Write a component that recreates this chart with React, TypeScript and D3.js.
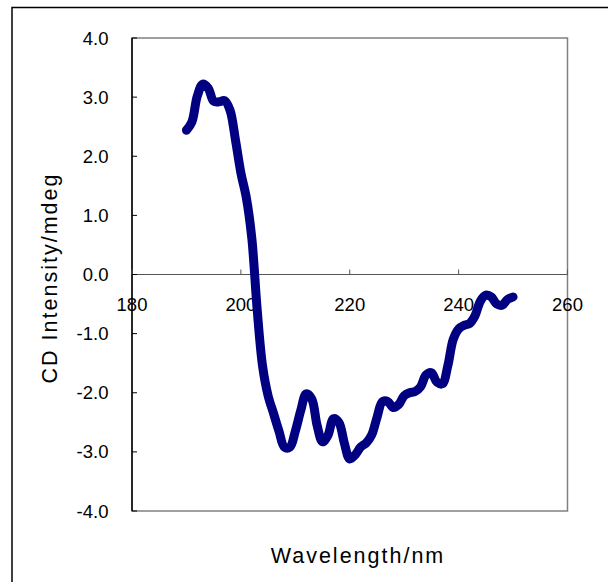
import React from "react";
import * as d3 from "d3";

const wavelengths: number[] = [
  190, 191, 192, 193, 194, 195, 196, 197, 198, 199,
  200, 201, 202, 203, 204, 205, 206, 207, 208, 209,
  210, 211, 212, 213, 214, 215, 216, 217, 218, 219,
  220, 221, 222, 223, 224, 225, 226, 227, 228, 229,
  230, 231, 232, 233, 234, 235, 236, 237, 238, 239,
  240, 241, 242, 243, 244, 245, 246, 247, 248, 249, 250,
];
const cdValues: number[] = [
  2.44, 2.58, 3.02, 3.22, 3.15, 2.93, 2.92, 2.94, 2.78, 2.28,
  1.72, 1.3, 0.62, -0.6, -1.56, -2.05, -2.35, -2.65, -2.92, -2.92,
  -2.65, -2.3, -2.02, -2.1, -2.55, -2.83, -2.72, -2.44, -2.5, -2.85,
  -3.12, -3.05, -2.92, -2.85, -2.72, -2.42, -2.15, -2.15, -2.25, -2.2,
  -2.05, -2.0, -1.98, -1.9, -1.7, -1.66, -1.82, -1.85, -1.55, -1.1,
  -0.92, -0.86, -0.83, -0.7, -0.45, -0.35, -0.38, -0.5, -0.52, -0.42, -0.38,
];
const xTicks: number[] = [180, 200, 220, 240, 260];
const yTicks: number[] = [4, 3, 2, 1, 0, -1, -2, -3, -4];
const xTitle = "Wavelength/nm";
const yTitle = "CD Intensity/mdeg";

const W = 608;
const H = 582;
const left = 132;
const right = 567.5;
const top = 38;
const bottom = 511;
const font = "'Liberation Sans', Arial, sans-serif";

export default function App() {
  const x = d3.scaleLinear().domain([180, 260]).range([left, right]);
  const y = d3.scaleLinear().domain([-4, 4]).range([bottom, top]);
  const data = wavelengths.map((w, i) => ({ w, v: cdValues[i] }));
  const line = d3
    .line<{ w: number; v: number }>()
    .x((d) => x(d.w))
    .y((d) => y(d.v))
    .curve(d3.curveCatmullRom.alpha(0.5));

  return (
    <svg
      width={W}
      height={H}
      style={{ position: "absolute", left: 0, top: 0, background: "#fff" }}
    >
      <rect x={12} y={7.5} width={800} height={800} fill="#fff" stroke="#000" strokeWidth={1.5} />
      {/* plot border */}
      <rect x={left} y={top} width={right - left} height={bottom - top} fill="none" stroke="#808080" strokeWidth={1.5} />
      <line x1={left} x2={left} y1={top} y2={bottom} stroke="#000" strokeWidth={1.5} />
      {/* x axis at zero */}
      <line x1={left} x2={right} y1={y(0)} y2={y(0)} stroke="#555" strokeWidth={1} />
      {xTicks.map((t) => (
        <g key={"xt" + t}>
          <line x1={x(t)} x2={x(t)} y1={y(0)} y2={y(0) - 5} stroke="#555" strokeWidth={1} />
          <text
            x={x(t)}
            y={y(0) + 36}
            textAnchor="middle"
            fontFamily={font}
            fontSize={18.5}
            fill="#000"
          >
            {String(t)}
          </text>
        </g>
      ))}
      {yTicks.map((t) => (
        <g key={"yt" + t}>
          <line x1={left} x2={left + 5} y1={y(t)} y2={y(t)} stroke="#000" strokeWidth={1} />
          <text
            x={108.5}
            y={y(t) + 6.5}
            textAnchor="end"
            fontFamily={font}
            fontSize={18.5}
            fill="#000"
          >
            {t.toFixed(1)}
          </text>
        </g>
      ))}
      <path
        d={line(data) || ""}
        fill="none"
        stroke="#000080"
        strokeWidth={9}
        strokeLinecap="round"
        strokeLinejoin="round"
      />
      <text
        x={358}
        y={563}
        textAnchor="middle"
        fontFamily={font}
        fontSize={21.5}
        letterSpacing={2}
        fill="#000"
      >
        {xTitle}
      </text>
      <text
        transform={`translate(57, 278) rotate(-90)`}
        textAnchor="middle"
        fontFamily={font}
        fontSize={21.5}
        letterSpacing={2}
        fill="#000"
      >
        {yTitle}
      </text>
    </svg>
  );
}
